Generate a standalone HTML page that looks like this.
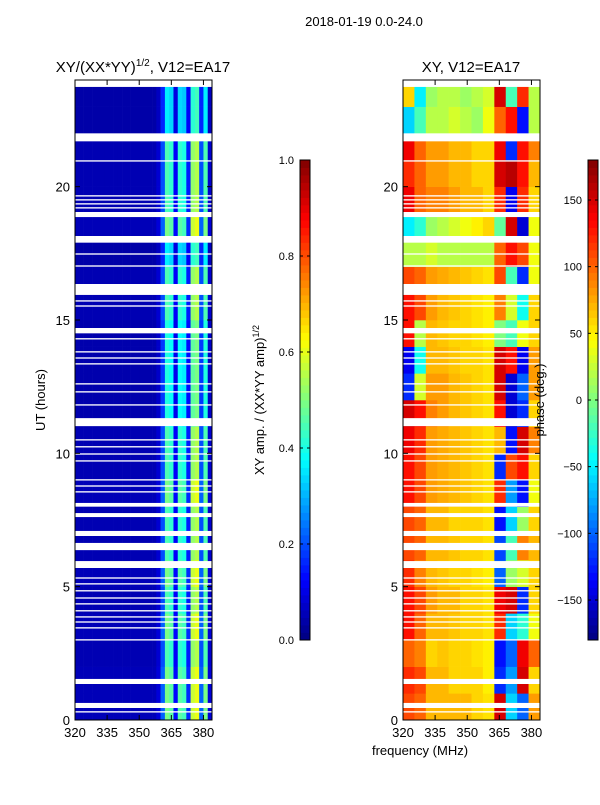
<!DOCTYPE html>
<html><head><meta charset="utf-8"><style>
body{margin:0;background:#fff;width:600px;height:800px;overflow:hidden}
svg text{font-family:"Liberation Sans",sans-serif;fill:#000}
</style></head><body>
<svg id="fig" width="600" height="800" xmlns="http://www.w3.org/2000/svg">
<text x="364" y="26" font-size="13" text-anchor="middle">2018-01-19 0.0-24.0</text>
<text x="143" y="72" font-size="15" text-anchor="middle">XY/(XX*YY)<tspan font-size="10" dy="-6">1/2</tspan><tspan dy="6">, V12=EA17</tspan></text>
<text x="471" y="72" font-size="15" text-anchor="middle">XY, V12=EA17</text>
<text transform="translate(45,400) rotate(-90)" font-size="13" text-anchor="middle">UT (hours)</text>
<text x="420" y="755" font-size="13" text-anchor="middle">frequency (MHz)</text>
<text transform="translate(264,400) rotate(-90)" font-size="13" text-anchor="middle">XY amp. / (XX*YY amp)<tspan font-size="9" dy="-5">1/2</tspan></text>
<g id="left"></g>
<g id="right"></g>
<g id="cb"></g>
<g id="axes"></g>
<text transform="translate(544,400) rotate(-90)" font-size="13" text-anchor="middle">phase (deg.)</text>
</svg>
<script>
// amplitude: frequency profile (2 MHz bins 320-384) and hourly scale
const ampProfile=[0.05,0.05,0.05,0.05,0.05,0.05,0.05,0.05,0.05,0.05,0.05,0.05,0.05,0.05,0.05,0.05,0.05,0.05,0.05,0.08,0.2,0.45,0.42,0.12,0.42,0.4,0.15,0.52,0.55,0.2,0.45,0.08];
const ampHourScale=[1.1,1.1,1.0,1.1,1.0,1.1,1.0,1.0,1.1,1.0,1.0,0.9,0.9,0.9,0.9,1.0,1.0,0.8,1.1,1.0,1.0,1.0,0.8,0.8];
// phase grid: 24 hours x 12 freq bins (deg)
const phaseGrid=[
[110,100,70,70,70,70,60,55,150,-60,-100,80],
[120,110,70,70,60,60,60,50,-120,-80,150,60],
[100,90,60,65,60,60,55,50,-130,-100,140,100],
[130,100,70,70,65,60,60,55,120,-60,-30,40],
[130,110,80,70,70,60,60,55,140,150,-120,60],
[120,90,70,65,60,60,55,50,-100,10,30,60],
[110,100,70,70,65,60,60,55,-110,-20,90,70],
[110,100,70,70,60,60,60,55,-130,-60,10,60],
[130,110,80,75,70,65,60,55,120,-80,-130,40],
[130,110,80,75,70,65,60,55,-120,110,130,60],
[140,120,80,75,70,65,60,55,70,-130,150,90],
[150,130,90,80,70,65,60,55,130,-150,-120,60],
[-120,30,80,80,70,65,60,55,150,-150,-100,80],
[-140,-40,70,70,65,60,60,55,150,130,-140,80],
[130,20,70,65,60,60,55,50,0,-20,40,60],
[130,110,80,70,65,60,55,50,90,30,-40,60],
[110,100,80,75,70,65,60,55,110,-20,-120,40],
[20,20,30,20,20,20,20,20,100,130,110,40],
[-50,-30,10,20,30,40,50,60,-10,150,-150,40],
[140,100,90,90,80,70,70,60,120,-140,120,60],
[120,100,80,80,70,70,60,60,150,160,130,70],
[140,100,80,80,70,70,60,60,140,-120,130,90],
[-60,-20,20,20,30,20,10,40,100,130,-130,20],
[60,-50,10,20,20,10,20,30,150,-20,120,20]];
// missing-data gaps [start hour, end hour]
const gaps=[[23.74,24],[21.7,22.0],[20.94,20.99],[19.63,19.68],[19.48,19.53],[19.33,19.38],[19.18,19.23],[18.86,19.05],[17.9,18.15],[17.45,17.5],[17.0,17.05],[15.94,16.35],[15.69,15.74],[15.5,15.55],[14.5,14.7],[14.27,14.32],[13.78,13.83],[13.55,13.6],[13.33,13.38],[12.58,12.63],[12.28,12.33],[11.79,11.84],[11.02,11.32],[10.48,10.53],[10.22,10.27],[9.95,10.0],[9.69,9.74],[8.98,9.03],[8.75,8.8],[8.53,8.58],[8.0,8.14],[7.61,7.76],[6.9,7.09],[6.37,6.64],[5.7,5.96],[5.3,5.35],[5.08,5.13],[4.82,4.87],[4.55,4.6],[4.33,4.38],[4.07,4.12],[3.84,3.89],[3.65,3.7],[3.43,3.48],[2.98,3.03],[1.35,1.54],[0.45,0.64],[0.28,0.33]];
const xTicks=[320,335,350,365,380];
const yTicks=[0,5,10,15,20];
const ampTicks=[0.0,0.2,0.4,0.6,0.8,1.0];
const phaseTicks=[-150,-100,-50,0,50,100,150];

const NS='http://www.w3.org/2000/svg';
function jet(v){v=Math.max(0,Math.min(1,v));
 const c=x=>Math.max(0,Math.min(1,x));
 const r=c(1.5-Math.abs(4*v-3)),g=c(1.5-Math.abs(4*v-2)),b=c(1.5-Math.abs(4*v-1));
 return `rgb(${Math.round(r*255)},${Math.round(g*255)},${Math.round(b*255)})`;}
function mk(p,tag,a){const e=document.createElementNS(NS,tag);for(const k in a)e.setAttribute(k,a[k]);p.appendChild(e);return e;}
const L0=75,W=137,T=80,B=720,F0=320,F1=384,H=24;
const fx=(f,off)=>off+(f-F0)*W/(F1-F0);
const fy=h=>B-h*(B-T)/H;
const left=document.getElementById('left'),right=document.getElementById('right');
// amplitude cells
for(let h=0;h<H;h++)for(let i=0;i<ampProfile.length;i++){
 const f0=F0+i*2,v=ampProfile[i]*ampHourScale[h];
 const r=mk(left,'rect',{x:fx(f0,L0),y:fy(h+1),width:W*2/(F1-F0)+0.3,height:(B-T)/H+0.3,fill:jet(v)});
 
 
}
const bw=(F1-F0)/12;
for(let h=0;h<H;h++)for(let i=0;i<12;i++){
 const v=(phaseGrid[h][i]+180)/360;
 const r=mk(right,'rect',{x:fx(F0+i*bw,L0+328),y:fy(h+1),width:W/12+0.3,height:(B-T)/H+0.3,fill:jet(v)});
 
 
}
for(const [g,off] of [[left,L0],[right,L0+328]])for(const gp of gaps){
 const r=mk(g,'rect',{x:off,y:fy(gp[1]),width:W,height:Math.max(1,fy(gp[0])-fy(gp[1])),fill:'#fff'});
 
 
}
const ax=document.getElementById('axes');
for(const off of [L0,L0+328]){
 const fr=mk(ax,'rect',{x:off,y:T,width:W,height:B-T,fill:'none',stroke:'#000','stroke-width':1});
 
 
 for(const t of xTicks){const x=fx(t,off);
  mk(ax,'line',{x1:x,x2:x,y1:B,y2:B-5,stroke:'#000'});mk(ax,'line',{x1:x,x2:x,y1:T,y2:T+5,stroke:'#000'});
  const tx=mk(ax,'text',{x:x,y:B+17,'font-size':13,'text-anchor':'middle'});tx.textContent=t;
  
  }
 for(const t of yTicks){const y=fy(t);
  mk(ax,'line',{x1:off,x2:off+5,y1:y,y2:y,stroke:'#000'});mk(ax,'line',{x1:off+W,x2:off+W-5,y1:y,y2:y,stroke:'#000'});
  const tx=mk(ax,'text',{x:off-5,y:y+5,'font-size':13,'text-anchor':'end'});tx.textContent=t;
  
  }
}
const cb=document.getElementById('cb');
function colorbar(x,vmin,vmax,ticks,fmt){
 const n=64,top=160,bot=640;
 for(let i=0;i<n;i++){const r=mk(cb,'rect',{x:x,y:bot-(i+1)*(bot-top)/n,width:10,height:(bot-top)/n+0.4,fill:jet((i+0.5)/n)});
  
  }
 mk(cb,'rect',{x:x,y:top,width:10,height:bot-top,fill:'none',stroke:'#000'});
 for(const t of ticks){const y=bot-(t-vmin)/(vmax-vmin)*(bot-top);
  mk(cb,'line',{x1:x,x2:x+3,y1:y,y2:y,stroke:'#000'});mk(cb,'line',{x1:x+10,x2:x+7,y1:y,y2:y,stroke:'#000'});
  const tx=mk(cb,'text',{x:x-6,y:y+4,'font-size':11,'text-anchor':'end'});tx.textContent=fmt(t);
  
  }
}
colorbar(300,0,1,ampTicks,t=>t.toFixed(1));
colorbar(588,-180,180,phaseTicks,t=>t<0?'\u2212'+(-t):String(t));
</script>
</body></html>
